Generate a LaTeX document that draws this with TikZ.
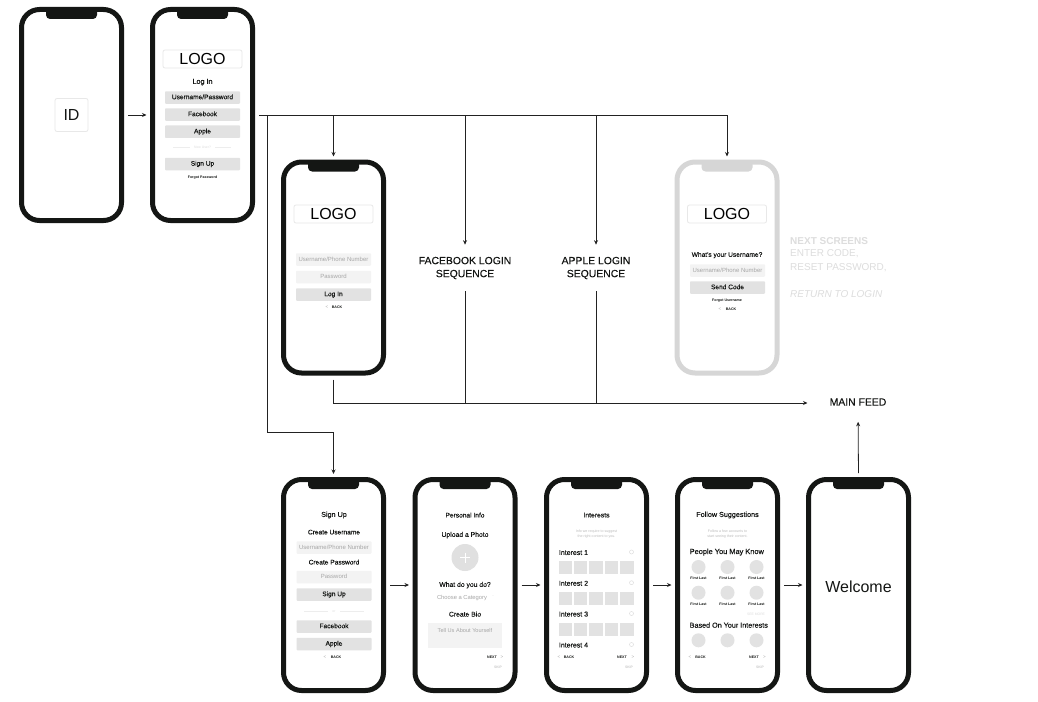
\documentclass[tikz,border=0pt]{standalone}
\usepackage{fontspec}
\setmainfont{Liberation Sans}
\newfontfamily\medf[FakeBold=0.25]{Liberation Sans}
\usetikzlibrary{arrows.meta,calc}
\definecolor{ink}{HTML}{141614}
\definecolor{pale}{HTML}{D6D6D6}
\definecolor{btnfill}{HTML}{E2E2E2}
\definecolor{fieldfill}{HTML}{F3F3F3}
\definecolor{hint}{HTML}{A6A6A6}
\definecolor{ghost}{HTML}{DDDDDD}
\definecolor{wire}{HTML}{222222}
\newcounter{tn}
\tikzset{
  phonebody/.style={draw=#1,line width=5pt,fill=white,rounded corners=18pt,minimum width=100pt,minimum height=211pt,inner sep=0pt},
  sz/.style={font={\fontsize{#1pt}{#1pt}\selectfont}},
  msz/.style={font={\fontsize{#1pt}{#1pt}\selectfont\medf}},
  bsz/.style={font={\fontsize{#1pt}{#1pt}\selectfont\bfseries}},
  lbl/.style={inner sep=0pt,text=ink,yshift=-.6pt},
  logobox/.style={draw=black!9,line width=.8pt,fill=white,rounded corners=2pt,minimum width=79pt,minimum height=18pt,inner sep=0pt,text=black,sz=16},
  btnbox/.style={fill=btnfill,rounded corners=.8pt,minimum width=75pt,minimum height=12.5pt,inner sep=0pt,text=ink,msz=6.6,text height=4.8pt,text depth=1.4pt},
  fieldbox/.style={fill=fieldfill,rounded corners=.8pt,minimum width=75pt,minimum height=12.5pt,inner sep=0pt,text=hint,sz=6,text height=4.4pt,text depth=1.3pt},
  wirel/.style={draw=wire,line width=.8pt},
  arr/.style={wirel,-{Stealth[length=4.5pt,width=4pt]}},
  seq/.style={inner sep=0pt,align=center,text=ink,msz=10.4},
  swatch/.style={fill=btnfill,minimum size=13.4pt,inner sep=0pt},
  dot/.style={circle,fill=btnfill,minimum size=#1,inner sep=0pt},
}
\newcommand{\phone}[4]{%
  \node[phonebody=#4] (#1) at (#2,#3+108) {};
  \fill[#4,rounded corners=4pt] (#2-25.5,#3+1) -- (#2-25.5,#3+12) -- (#2+25.5,#3+12) -- (#2+25.5,#3+1) -- cycle;
}
\newcommand{\tx}[3][]{\stepcounter{tn}\node[lbl,#1] (t\arabic{tn}) at (#2) {#3};}
\newcommand{\logo}[2]{\stepcounter{tn}\node[logobox] (t\arabic{tn}) at (#1,#2) {LOGO};}
\newcommand{\btn}[3]{\stepcounter{tn}\node[btnbox] (t\arabic{tn}) at (#1,#2) {#3};}
\newcommand{\fld}[3]{\stepcounter{tn}\node[fieldbox] (t\arabic{tn}) at (#1,#2) {#3};}
\newcommand{\back}[3]{\tx[sz=4.5,text=hint]{#1,#3}{<}\tx[bsz=3.6]{#2,#3}{BACK}}
\newcommand{\nxt}[3]{\tx[bsz=3.6]{#1,#3}{NEXT}\tx[sz=4.5,text=hint]{#2,#3}{>}}
\newcommand{\skp}[2]{\tx[sz=3.4,text=ghost!80!black]{#1,#2}{SKIP}}
\begin{document}
\begin{tikzpicture}[x=1pt,y=-1pt]
\useasboundingbox (0,0) rectangle (1038,701);
\fill[white] (0,0) rectangle (1038,701);

% phones
\phone{pid}{71.5}{7}{ink}
\phone{plogin}{202.5}{7}{ink}
\phone{pcred}{333.5}{159.5}{ink}
\phone{pforgot}{727}{159.5}{pale}
\phone{psign}{333.5}{477}{ink}
\phone{pinfo}{465}{477}{ink}
\phone{pint}{596.5}{477}{ink}
\phone{pfollow}{727.5}{477}{ink}
\phone{pwelcome}{858.5}{477}{ink}

% ID
\node[draw=black!9,line width=.8pt,fill=white,rounded corners=2pt,minimum size=33pt,inner sep=0pt,text=ink,sz=16] (idbox) at (71.5,115) {ID};

% login
\logo{202.5}{59}
\tx[msz=7.2]{202.5,81.5}{Log In}
\btn{202.5}{97.5}{Username/Password}
\btn{202.5}{114.5}{Facebook}
\btn{202.5}{131.7}{Apple}
\tx[sz=3.4,text=ghost]{202.5,146.5}{New User?}
\draw[black!7,line width=.4pt] (173,147) -- (190,147) (215,147) -- (231,147);
\btn{202.5}{164}{Sign Up}
\tx[bsz=3.6]{202.5,176.5}{Forgot Password}

% credentials
\logo{333.5}{214}
\fld{333.5}{259.5}{Username/Phone Number}
\fld{333.5}{277}{Password}
\btn{333.5}{294.5}{Log In}
\back{327}{337}{307}

% forgot
\logo{727}{214}
\tx[msz=6.6]{727,254.5}{What's your Username?}
\fld{727.5}{270.5}{Username/Phone Number}
\btn{727.5}{287.5}{Send Code}
\tx[bsz=3.6]{727,300}{Forgot Username}
\back{720}{731}{309}
\tx[bsz=10,text=ghost,anchor=west]{790,240}{NEXT SCREENS}
\tx[sz=10,text=ghost,anchor=west]{790,253.5}{ENTER CODE,}
\tx[sz=10,text=ghost,anchor=west]{790,267}{RESET PASSWORD,}
\tx[text=ghost,anchor=west,font={\fontsize{10pt}{10pt}\selectfont\itshape}]{790,293}{RETURN TO LOGIN}

% sign up
\tx[msz=7.2]{334,514.5}{Sign Up}
\tx[msz=6.6]{334,531.5}{Create Username}
\fld{334}{547.5}{Username/Phone Number}
\tx[msz=6.6]{334,561.5}{Create Password}
\fld{334}{577}{Password}
\btn{334}{594.5}{Sign Up}
\tx[sz=3.4,text=ghost]{334,610.5}{or}
\draw[black!7,line width=.4pt] (304,611) -- (328,611) (340,611) -- (364,611);
\btn{334}{626.5}{Facebook}
\btn{334}{644}{Apple}
\back{325}{336}{657}

% personal info
\tx[msz=6.6]{465,514.5}{Personal Info}
\tx[msz=6.8]{465,534.5}{Upload a Photo}
\node[dot=27pt,fill=black!12] (avatar) at (465,557.5) {};
\draw[white,line width=.7pt] (460,557.5) -- (470,557.5) (465,552.5) -- (465,562.5);
\tx[msz=6.8]{465,584.5}{What do you do?}
\tx[sz=5.8,text=hint]{462,597}{Choose a Category}
\tx[sz=4.5,text=ghost]{493,596.5}{-}
\tx[msz=6.8]{465,613.5}{Create Bio}
\node[fill=fieldfill,minimum width=74pt,minimum height=25pt,inner sep=0pt] (biobox) at (465,635.5) {};
\tx[sz=5.6,text=hint]{465,629.5}{Tell Us About Yourself}
\nxt{492}{502}{657}
\skp{498}{667}

% interests
\tx[msz=6.8]{596.5,514.5}{Interests}
\tx[sz=3.6,text=ghost!85!black]{596.5,530.5}{Info we require to suggest}
\tx[sz=3.6,text=ghost!85!black]{596.5,535.5}{the right content to you.}
\foreach \yy/\lab in {552/Interest 1,582.7/Interest 2,613.5/Interest 3,644.5/Interest 4}{
  \tx[msz=7,anchor=west]{558.7,\yy}{\lab}
  \node[circle,draw=ghost,line width=.5pt,minimum size=4pt,inner sep=0pt] (ring\yy) at (631.5,\yy) {};
}
\foreach \yy in {567.4,598.4,629.4}{
  \foreach \xx in {565.5,580.7,596,611.3,626.8}{
    \node[swatch] (sw\xx-\yy) at (\xx,\yy) {};
  }
}
\back{559}{569}{657}
\nxt{622}{633}{657}
\skp{629}{667}

% follow
\tx[msz=7.2]{727.5,514.5}{Follow Suggestions}
\tx[sz=3.6,text=ghost!85!black]{727.5,530.5}{Follow a few accounts to}
\tx[sz=3.6,text=ghost!85!black]{727.5,535.5}{start seeing their content.}
\tx[msz=7.4,anchor=west]{689.5,551.5}{People You May Know}
\foreach \xx in {698.5,727.5,756.5}{
  \node[dot=14pt] (ca\xx) at (\xx,567) {};
  \tx[bsz=3.6]{\xx,578}{First Last}
  \node[dot=14pt] (cb\xx) at (\xx,592.7) {};
  \tx[bsz=3.6]{\xx,604}{First Last}
  \node[dot=14pt] (cc\xx) at (\xx,640.3) {};
}
\tx[sz=3.4,text=ghost]{756,613.5}{SEE MORE}
\tx[msz=7.2,anchor=west]{689.5,624.5}{Based On Your Interests}
\back{690}{700.5}{657}
\nxt{754}{764.5}{657}
\skp{760}{667}

% welcome
\node[lbl,sz=16] (welcome) at (858.5,586) {Welcome};

% free-standing labels
\node[seq] (fbseq) at (465,268) {FACEBOOK LOGIN\\[2.6pt]SEQUENCE};
\node[seq] (apseq) at (596,268) {APPLE LOGIN\\[2.6pt]SEQUENCE};
\node[seq] (feed) at (858,402) {MAIN FEED};

% connectors
\draw[arr,shorten <=4pt,shorten >=3.5pt] (pid.east) -- (plogin.west);
\coordinate (fork) at (267,115);
\coordinate (tap) at (plogin.east);
\draw[arr,shorten <=4pt] (tap) -- (tap -| pforgot.north) -- ($(pforgot.north)+(0,-3)$);
\draw[arr] (tap -| pcred.north) -- ($(pcred.north)+(0,-3)$);
\draw[arr,shorten >=12pt] (tap -| fbseq.north) -- (fbseq.north);
\draw[arr,shorten >=12pt] (tap -| apseq.north) -- (apseq.north);
\coordinate (low) at (267,432);
\draw[arr] (fork) -- (low) -- (low -| psign.north) -- ($(psign.north)+(0,-3)$);
\coordinate (bus) at (333.5,403);
\draw[arr,shorten <=4pt,shorten >=22pt] (pcred.south) -- (bus) -- (bus -| feed.west);
\draw[wirel,shorten <=12pt] (fbseq.south) -- (bus -| fbseq.south);
\draw[wirel,shorten <=12pt] (apseq.south) -- (bus -| apseq.south);
\draw[arr,shorten <=4pt,shorten >=3.5pt] (psign.east) -- (pinfo.west);
\draw[arr,shorten <=4pt,shorten >=3.5pt] (pinfo.east) -- (pint.west);
\draw[arr,shorten <=4pt,shorten >=3.5pt] (pint.east) -- (pfollow.west);
\draw[arr,shorten <=4pt,shorten >=3.5pt] (pfollow.east) -- (pwelcome.west);
\draw[arr,shorten <=4pt,shorten >=16pt] (pwelcome.north) -- (feed.south);
\end{tikzpicture}
\end{document}
